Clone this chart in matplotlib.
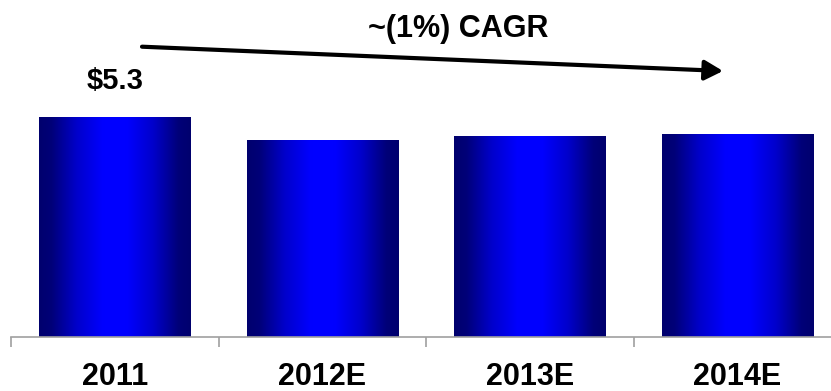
import matplotlib
matplotlib.use("Agg")
import matplotlib.pyplot as plt
import numpy as np
from matplotlib.colors import LinearSegmentedColormap
from matplotlib.patches import FancyArrowPatch
import matplotlib.transforms as mtransforms

categories = ["2011", "2012E", "2013E", "2014E"]
values = [5.3, 4.75, 4.84, 4.89]
value_labels = ["$5.3", "", "", ""]
cagr_label = "~(1%) CAGR"

plt.rcParams['font.family'] = ['Liberation Sans', 'DejaVu Sans']

W, H = 831, 391
fig = plt.figure(figsize=(W / 100, H / 100), dpi=100)
ax = fig.add_axes([11 / W, 54 / H, 830 / W, 337 / H])
ax.set_xlim(-0.5, len(categories) - 0.5)
ax.set_ylim(0, 337 / (220 / 5.3))

cmap = LinearSegmentedColormap.from_list(
    "bargrad",
    [(0.0, (0, 0, 0.43)), (0.08, (0, 0, 0.47)), (0.25, (0, 0, 0.8)),
     (0.42, (0, 0, 1.0)), (0.58, (0, 0, 1.0)), (0.75, (0, 0, 0.8)),
     (0.92, (0, 0, 0.47)), (1.0, (0, 0, 0.43))])
grad = np.linspace(0, 1, 256).reshape(1, -1)

x = np.arange(len(categories))
bars = ax.bar(x, values, width=0.728, color="none", edgecolor="none", zorder=2)
for rect in bars:
    x0, w, h = rect.get_x(), rect.get_width(), rect.get_height()
    im = ax.imshow(grad, cmap=cmap, aspect="auto", extent=[x0, x0 + w, 0, h],
                   interpolation="bicubic", zorder=2)
    im.set_clip_path(rect)

# spines / ticks
for s in ["top", "right", "left"]:
    ax.spines[s].set_visible(False)
ax.spines["bottom"].set_color("#a0a0a0")
ax.spines["bottom"].set_linewidth(1.2)
ax.set_yticks([])
ax.set_xticks(np.arange(len(categories) + 1) - 0.5)
ax.set_xticklabels([])
ax.tick_params(axis="x", direction="out", length=7, width=1.2, color="#a0a0a0")

trans = mtransforms.blended_transform_factory(ax.transData, ax.transAxes)
for xi, cat in zip(x, categories):
    ax.text(xi, -40 / 337, cat, transform=trans, ha="center", va="center",
            fontsize=22, fontweight="bold", color="black")

for xi, v, lab in zip(x, values, value_labels):
    if lab:
        ax.annotate(lab, (xi, v), xytext=(0, 36), textcoords="offset pixels",
                    ha="center", va="center", fontsize=21, fontweight="bold")

# CAGR arrow (figure pixel coordinates)
arrow = FancyArrowPatch((142 / W, 1 - 46.7 / H), (723 / W, 1 - 71 / H),
                        transform=fig.transFigure,
                        arrowstyle="-|>,head_length=0.55,head_width=0.3",
                        mutation_scale=20, lw=3, color="black",
                        shrinkA=0, shrinkB=0)
fig.patches.append(arrow)
fig.text(458 / W, 1 - 29 / H, cagr_label, ha="center", va="center",
         fontsize=22, fontweight="bold")

fig.savefig("out.png", dpi=100)
